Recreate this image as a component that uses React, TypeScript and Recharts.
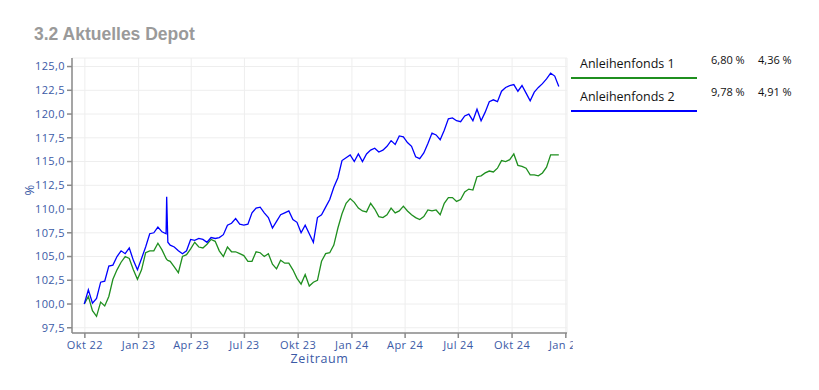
import React from "react"
import { LineChart, Line, XAxis, YAxis, CartesianGrid } from "recharts"

// weekly closes (plus two extra days around the Feb 2023 spike)
const dates = [
  "2022-09-30", "2022-10-07", "2022-10-14", "2022-10-21", "2022-10-28", "2022-11-04", "2022-11-11",
  "2022-11-18", "2022-11-25", "2022-12-02", "2022-12-09", "2022-12-16", "2022-12-23", "2022-12-30",
  "2023-01-06", "2023-01-13", "2023-01-20", "2023-01-27", "2023-02-03", "2023-02-10", "2023-02-17",
  "2023-02-18", "2023-02-20",
  "2023-02-24", "2023-03-03", "2023-03-10", "2023-03-17", "2023-03-24", "2023-03-31", "2023-04-07",
  "2023-04-14", "2023-04-21", "2023-04-28", "2023-05-05", "2023-05-12", "2023-05-19", "2023-05-26",
  "2023-06-02", "2023-06-09", "2023-06-16", "2023-06-23", "2023-06-30", "2023-07-07", "2023-07-14",
  "2023-07-21", "2023-07-28", "2023-08-04", "2023-08-11", "2023-08-18", "2023-08-25", "2023-09-01",
  "2023-09-08", "2023-09-15", "2023-09-22", "2023-09-29", "2023-10-06", "2023-10-13", "2023-10-20",
  "2023-10-27", "2023-11-03", "2023-11-10", "2023-11-17", "2023-11-24", "2023-12-01", "2023-12-08",
  "2023-12-15", "2023-12-22", "2023-12-29", "2024-01-05", "2024-01-12", "2024-01-19", "2024-01-26",
  "2024-02-02", "2024-02-09", "2024-02-16", "2024-02-23", "2024-03-01", "2024-03-08", "2024-03-15",
  "2024-03-22", "2024-03-29", "2024-04-05", "2024-04-12", "2024-04-19", "2024-04-26", "2024-05-03",
  "2024-05-10", "2024-05-17", "2024-05-24", "2024-05-31", "2024-06-07", "2024-06-14", "2024-06-21",
  "2024-06-28", "2024-07-05", "2024-07-12", "2024-07-19", "2024-07-26", "2024-08-02", "2024-08-09",
  "2024-08-16", "2024-08-23", "2024-08-30", "2024-09-06", "2024-09-13", "2024-09-20", "2024-09-27",
  "2024-10-04", "2024-10-11", "2024-10-18", "2024-10-25", "2024-11-01", "2024-11-08", "2024-11-15",
  "2024-11-22", "2024-11-29", "2024-12-06", "2024-12-13", "2024-12-20",
]

const fonds1 = [
  100.0, 100.8, 99.3, 98.7, 100.2, 99.8, 100.8, 102.6, 103.6, 104.4, 105.0, 104.8, 103.6, 102.6,
  103.6, 105.4, 105.6, 105.6, 106.4, 105.7, 104.8,
  104.7, 104.6,
  104.5, 103.9, 103.3, 105.0, 105.2, 105.8, 106.5, 106.0, 105.9, 106.3, 106.8, 106.6, 105.6, 105.0,
  106.0, 105.5, 105.5, 105.3, 105.1, 104.5, 104.5, 105.5, 105.4, 105.0, 105.3, 104.2, 103.7, 104.6,
  104.3, 104.3, 103.6, 102.7, 102.1, 103.1, 101.9, 102.3, 102.5, 104.5, 105.3, 105.4, 106.2, 108.0,
  109.5, 110.6, 111.1, 110.7, 110.1, 109.8, 109.7, 110.6, 110.0, 109.2, 109.1, 109.4, 110.1, 109.6,
  109.8, 110.3, 109.8, 109.4, 109.1, 108.9, 109.2, 109.9, 109.8, 109.9, 109.4, 110.6, 111.2, 111.2,
  110.8, 111.0, 111.8, 112.1, 112.0, 113.4, 113.5, 113.8, 114.0, 113.9, 114.3, 115.1, 115.0, 115.2,
  115.8, 114.6, 114.5, 114.3, 113.6, 113.6, 113.5, 113.8, 114.4, 115.7, 115.7, 115.7,
]

const fonds2 = [
  100.0, 101.5, 100.1, 100.6, 102.3, 102.4, 104.0, 104.1, 105.0, 105.6, 105.3, 105.9, 104.6, 103.6,
  104.8, 106.0, 107.4, 107.5, 108.1, 107.6, 107.4,
  111.3, 106.5,
  106.2, 106.0, 105.6, 105.3, 105.6, 106.8, 106.7, 106.9, 106.8, 106.5, 107.0, 106.9, 107.0, 107.3,
  108.3, 108.5, 109.0, 108.4, 108.3, 108.4, 109.6, 110.1, 110.2, 109.6, 109.1, 108.0, 108.7, 109.4,
  109.6, 109.8, 108.9, 108.6, 107.5, 108.3, 107.4, 106.5, 109.1, 109.4, 110.2, 111.0, 112.3, 113.3,
  115.1, 115.4, 115.7, 115.0, 115.8, 115.0, 115.8, 116.2, 116.4, 116.0, 116.2, 116.6, 117.2, 116.8,
  117.7, 117.6, 117.0, 116.6, 115.5, 115.3, 115.9, 116.9, 118.0, 117.8, 117.3, 118.3, 119.5, 119.6,
  119.3, 119.2, 119.8, 120.0, 119.3, 120.5, 119.3, 120.2, 121.3, 121.5, 121.3, 122.4, 122.8, 123.0,
  123.1, 122.4, 123.0, 122.2, 121.4, 122.3, 122.8, 123.2, 123.7, 124.3, 124.0, 122.9,
]

const xTicks = [
  "2022-10-01", "2023-01-01", "2023-04-01", "2023-07-01", "2023-10-01",
  "2024-01-01", "2024-04-01", "2024-07-01", "2024-10-01", "2025-01-01",
]
const xTickLabels = ["Okt 22", "Jan 23", "Apr 23", "Jul 23", "Okt 23", "Jan 24", "Apr 24", "Jul 24", "Okt 24", "Jan 25"]
const yTicks = [97.5, 100, 102.5, 105, 107.5, 110, 112.5, 115, 117.5, 120, 122.5, 125]

const legendRows = [
  { name: "Anleihenfonds 1", color: "#1f8f1f", perf: "6,80 %", vola: "4,36 %" },
  { name: "Anleihenfonds 2", color: "#0000ff", perf: "9,78 %", vola: "4,91 %" },
]

const data = dates.map((d, i) => ({ t: Date.parse(d), f1: fonds1[i], f2: fonds2[i] }))
const tickTimes = xTicks.map((d) => Date.parse(d))

const tickColor = "#3b5aa6"
const font = "'Open Sans', sans-serif"

const XTick = (props: any) => {
  const { x, y, payload, index } = props
  const label = xTickLabels[tickTimes.indexOf(payload.value)] ?? ""
  const last = index === xTicks.length - 1
  const text = (
    <text x={last ? 30 : x} y={last ? 13 : y + 9} textAnchor="middle" fill={tickColor} fontSize={11} fontFamily={font} letterSpacing={0.4}>
      {label}
    </text>
  )
  if (last) {
    // last label is cut off at the plot edge in the original
    return (
      <svg x={x - 30} y={y - 4} width={37} height={20}>
        {text}
      </svg>
    )
  }
  return text
}

export default function App() {
  return (
    <div style={{ position: "relative", width: 803, height: 374, fontFamily: font }}>
      <div style={{ position: "absolute", left: 26, top: 16, lineHeight: "20px", fontSize: 17.5, fontWeight: 700, color: "#9a9a9a", fontFamily: "'Liberation Sans', Arial, sans-serif" }}>
        3.2 Aktuelles Depot
      </div>

      <LineChart width={803} height={370} data={data} margin={{ top: 50, right: 244, bottom: 5, left: 0 }}>
        <CartesianGrid stroke="#eeeeee" strokeWidth={1} />
        <XAxis
          dataKey="t"
          type="number"
          domain={[Date.parse("2022-09-09"), Date.parse("2025-01-03")]}
          ticks={tickTimes}
          allowDataOverflow
          interval={0}
          height={40}
          stroke="#8a8a8a"
          strokeWidth={1.5}
          tickSize={5}
          tick={<XTick />}
          label={{ value: "Zeitraum", position: "insideBottom", offset: 10, fill: tickColor, fontSize: 12.5, letterSpacing: 0.6, fontFamily: font }}
        />
        <YAxis
          type="number"
          domain={[96.95, 125.9]}
          ticks={yTicks}
          allowDataOverflow
          width={64}
          stroke="#8a8a8a"
          strokeWidth={1.5}
          tickSize={5}
          tick={{ fill: tickColor, fontSize: 11, fontFamily: font, letterSpacing: 0.4 }}
          tickFormatter={(v: number) => v.toFixed(1).replace(".", ",")}
          label={{ value: "%", angle: -90, position: "insideLeft", offset: 21, fill: tickColor, fontSize: 13, fontFamily: font }}
        />
        <Line type="linear" dataKey="f1" stroke="#1f8f1f" strokeWidth={1.3} dot={false} isAnimationActive={false} />
        <Line type="linear" dataKey="f2" stroke="#0000ff" strokeWidth={1.3} dot={false} isAnimationActive={false} />
      </LineChart>

      {legendRows.map((r, i) => (
        <React.Fragment key={r.name}>
          <div style={{ position: "absolute", left: 563, top: 43 + i * 32.5, width: 126, borderBottom: `2px solid ${r.color}` }}>
            <div style={{ paddingLeft: 9, fontSize: 12.5, lineHeight: "26px", color: "#111" }}>{r.name}</div>
          </div>
          <div style={{ position: "absolute", left: 703, top: 44 + i * 32, fontSize: 11, color: "#111" }}>{r.perf}</div>
          <div style={{ position: "absolute", left: 750, top: 44 + i * 32, fontSize: 11, color: "#111" }}>{r.vola}</div>
        </React.Fragment>
      ))}
    </div>
  )
}
